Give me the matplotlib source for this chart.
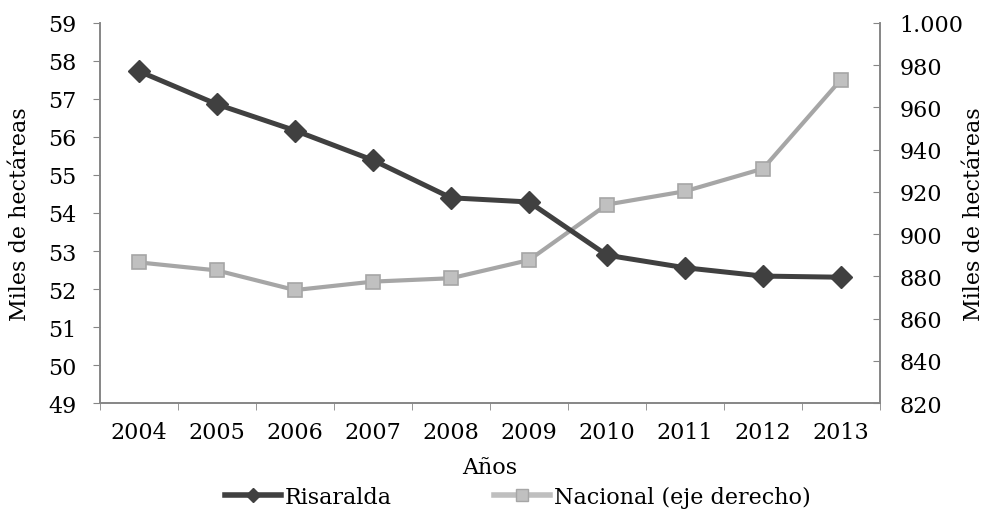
import numpy as np
import matplotlib
matplotlib.use('Agg')
from matplotlib import pyplot as plt
from matplotlib.ticker import FuncFormatter, FixedLocator

years = ['2004','2005','2006','2007','2008','2009','2010','2011','2012','2013']
risaralda = [57.73, 56.86, 56.17, 55.39, 54.40, 54.29, 52.89, 52.56, 52.34, 52.31]
nacional = [886.6, 882.8, 873.5, 877.5, 879.1, 887.7, 914.0, 920.3, 931.0, 973.2]

plt.rcParams.update({
    'font.family': ['DejaVu Serif'],
    'font.size': 16,
    'axes.edgecolor': '#868686',
    'xtick.color': '#868686',
    'ytick.color': '#868686',
    'xtick.labelcolor': 'black',
    'ytick.labelcolor': 'black',
})

fig = plt.figure(figsize=(9.85, 5.1), dpi=100)
ax = fig.add_axes((0.1015, 0.2078, 0.7919, 0.7452))
ax2 = ax.twinx()

x = np.arange(len(years))
l1, = ax.plot(x, risaralda, color='#404040', lw=3.6, marker='D', ms=11.5,
              mfc='#404040', mec='#404040', label='Risaralda', zorder=3)
l2, = ax2.plot(x, nacional, color='#A6A6A6', lw=3.0, marker='s', ms=10.5,
               mfc='#C0C0C0', mec='#A6A6A6', mew=1.2, label='Nacional (eje derecho)')
ax.set_zorder(ax2.get_zorder() + 1)
ax.patch.set_visible(False)

ax.set_xlim(-0.5, len(years) - 0.5)
ax.set_ylim(49, 59)
ax.set_yticks(np.arange(49, 60, 1))
ax2.set_ylim(820, 1000)
ax2.set_yticks(np.arange(820, 1001, 20))
ax2.yaxis.set_major_formatter(FuncFormatter(lambda v, p: '{:,.0f}'.format(v).replace(',', '.')))

ax.set_xticks(x)
ax.set_xticklabels(years)
ax.xaxis.set_minor_locator(FixedLocator(np.arange(-0.5, len(years), 1)))
ax.tick_params(axis='x', which='major', length=0, pad=13)
ax.tick_params(axis='x', which='minor', length=5, direction='out')
ax.tick_params(axis='y', length=5, direction='out', pad=12)
ax2.tick_params(axis='y', length=5, direction='in', pad=14)

for a in (ax, ax2):
    a.spines['top'].set_visible(False)
    for s in a.spines.values():
        s.set_linewidth(1.2)

ax.set_ylabel('Miles de hectáreas', labelpad=12)
ax2.set_ylabel('Miles de hectáreas', rotation=90, labelpad=0)
ax.set_xlabel('Años', labelpad=9)

# legend handles drawn smaller, like the original
h1 = plt.Line2D([], [], color='#404040', lw=4, marker='D', ms=7, mfc='#404040', mec='#404040')
h2 = plt.Line2D([], [], color='#BFBFBF', lw=4, marker='s', ms=8, mfc='#C0C0C0', mec='#A6A6A6')
fig.legend([h1, h2], ['Risaralda', 'Nacional (eje derecho)'], loc='center',
           bbox_to_anchor=(0.526, 0.024), ncol=2, frameon=False, handlelength=2.5,
           handletextpad=0.2, columnspacing=4.6, borderaxespad=0, borderpad=0)

fig.savefig('out.png', dpi=100)
